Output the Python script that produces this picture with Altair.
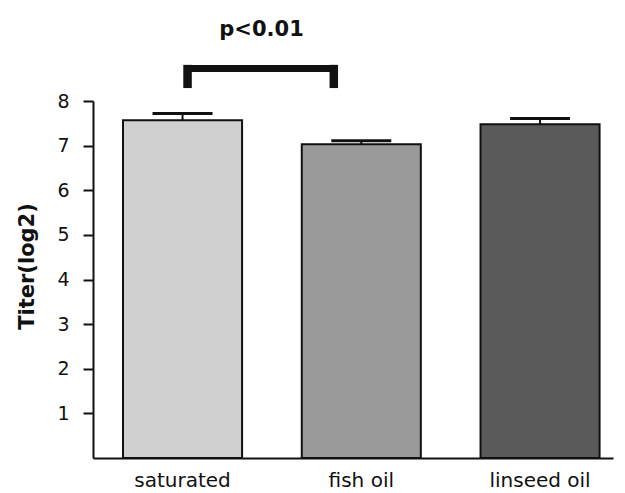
import altair as alt
import pandas as pd

categories = ["saturated", "fish oil", "linseed oil"]
means = [7.57, 7.03, 7.48]
errors = [0.15, 0.08, 0.13]
bar_colors = ["#d0d0d0", "#9a9a9a", "#5a5a5a"]
y_ticks = [1, 2, 3, 4, 5, 6, 7, 8]

sig_from = "saturated"
sig_to = "fish oil"
sig_label = "p<0.01"
bracket_bar_y = 8.73
bracket_foot_top = 8.81
bracket_foot_bottom = 8.29
label_y = 9.45

df = pd.DataFrame({
    "cat": categories,
    "mean": means,
    "upper": [m + e for m, e in zip(means, errors)],
})
sig = pd.DataFrame({
    "a": [sig_from], "b": [sig_to], "y": [bracket_bar_y],
    "ytop": [bracket_foot_top], "ybot": [bracket_foot_bottom],
    "ly": [label_y], "label": [sig_label],
})

ink = "#111111"
FONT = "DejaVu Sans"

xscale = alt.Scale(domain=categories, paddingInner=0.334, paddingOuter=0.1215, align=0.691)
yscale = alt.Scale(domain=[0, 8], nice=False, zero=True)

x_enc = alt.X("cat:N", scale=xscale, sort=categories,
              axis=alt.Axis(title=None, labelAngle=0, ticks=False, tickSize=0,
                            labelPadding=12, labelFontSize=20, labelFont=FONT,
                            labelColor=ink, domainColor=ink, domainWidth=2, grid=False))
y_enc = alt.Y("mean:Q", scale=yscale,
              axis=alt.Axis(values=y_ticks, title="Titer(log2)", titleFont=FONT,
                            titleFontSize=21, titleFontWeight="bold", titleColor=ink,
                            titlePadding=19, titleY=165,
                            labelFont=FONT, labelFontSize=19, labelColor=ink,
                            labelPadding=14, tickSize=10, tickWidth=2, tickColor=ink,
                            domainColor=ink, domainWidth=2, grid=False))

base = alt.Chart(df)
bars = base.mark_bar(stroke=ink, strokeWidth=2).encode(
    x=x_enc, y=y_enc,
    color=alt.Color("cat:N", scale=alt.Scale(domain=categories, range=bar_colors), legend=None),
)
stems = base.mark_rule(color=ink, strokeWidth=2).encode(
    x=alt.X("cat:N", scale=xscale, sort=categories),
    y=alt.Y("mean:Q", scale=yscale), y2="upper:Q",
)
caps = base.mark_tick(color=ink, thickness=3, size=60, orient="horizontal", opacity=1).encode(
    x=alt.X("cat:N", scale=xscale, sort=categories),
    y=alt.Y("upper:Q", scale=yscale),
)

sb = alt.Chart(sig)
hbar = sb.mark_rule(color=ink, strokeWidth=7, xOffset=5, x2Offset=-27.5).encode(
    x=alt.X("a:N", scale=xscale), x2="b:N", y=alt.Y("y:Q", scale=yscale),
)
foot_l = sb.mark_rule(color=ink, strokeWidth=8.5, xOffset=5).encode(
    x=alt.X("a:N", scale=xscale), y=alt.Y("ytop:Q", scale=yscale), y2="ybot:Q",
)
foot_r = sb.mark_rule(color=ink, strokeWidth=8.5, xOffset=-27.5).encode(
    x=alt.X("b:N", scale=xscale), y=alt.Y("ytop:Q", scale=yscale), y2="ybot:Q",
)
txt = sb.mark_text(font=FONT, fontSize=21, fontWeight="bold", color=ink,
                   baseline="alphabetic", align="center", xOffset=79).encode(
    x=alt.X("a:N", scale=xscale), y=alt.Y("ly:Q", scale=yscale), text="label:N",
)

chart = alt.layer(bars, stems, caps, hbar, foot_l, foot_r, txt).properties(
    width=520, height=357,
    background="white",
    autosize=alt.AutoSizeParams(type="none"),
    padding={"left": 85, "top": 93, "right": 4, "bottom": 34},
).configure_view(stroke="transparent", strokeWidth=0)

chart.save("out.html", embed_options={"renderer": "svg", "actions": False})
